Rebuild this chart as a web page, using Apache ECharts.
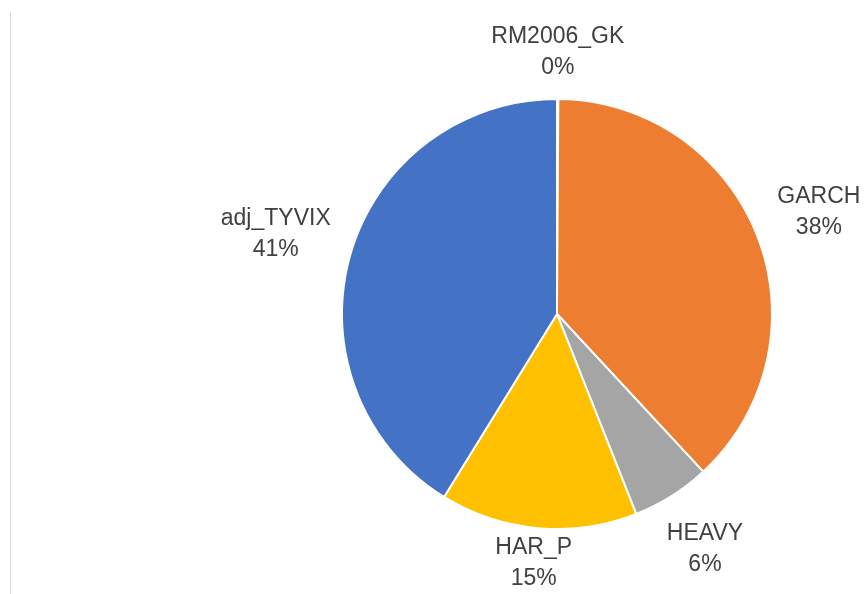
<!DOCTYPE html>
<html>
<head>
<meta charset="utf-8">
<script src="https://cdn.jsdelivr.net/npm/echarts@6/dist/echarts.min.js"></script>
<style>
  html, body { margin: 0; padding: 0; background: #fff; }
  #chart { width: 865px; height: 594px; }
</style>
</head>
<body>
<div id="chart"></div>
<script>
// 数据
var names = ['RM2006_GK', 'GARCH', 'HEAVY', 'HAR_P', 'adj_TYVIX'];
var values = [0.1, 38.0, 5.9, 14.8, 41.2];
var colors = ['#5B9BD5', '#ED7D31', '#A5A5A5', '#FFC000', '#4472C4'];

var cx = 557, cy = 314, R = 215;
var total = values.reduce(function (a, b) { return a + b; }, 0);

// 每个扇区中间的角度 (从12点顺时针)
var midAngles = [];
var acc = 0;
for (var i = 0; i < values.length; i++) {
  midAngles.push((acc + values[i] / 2) / total * Math.PI * 2);
  acc += values[i];
}

var chart = echarts.init(document.getElementById('chart'));

var option = {
  backgroundColor: '#fff',
  animation: false,
  graphic: [{
    type: 'rect',
    shape: { x: 10, y: 12, width: 1, height: 582 },
    style: { fill: '#D9D9D9' },
    silent: true
  }],
  series: [{
    type: 'pie',
    center: [cx, cy],
    radius: R,
    startAngle: 90,
    clockwise: true,
    percentPrecision: 0,
    avoidLabelOverlap: false,
    itemStyle: { borderColor: '#fff', borderWidth: 2 },
    label: {
      show: true,
      position: 'outside',
      formatter: '{b}\n{d}%',
      fontFamily: '"Liberation Sans", Arial, sans-serif',
      fontSize: 23,
      lineHeight: 31,
      color: '#404040'
    },
    labelLine: { show: false },
    // 标签放在扇区外侧, 超出底部时往上推
    labelLayout: function (params) {
      var a = midAngles[params.dataIndex];
      var sx = Math.sin(a), sy = -Math.cos(a);
      var w = params.labelRect.width, h = params.labelRect.height;
      var d = R + 16 + Math.abs(sx) * w / 2 + Math.abs(sy) * h / 2;
      var x = cx + sx * d;
      var y = Math.min(cy + sy * d, chart.getHeight() - h / 2);
      return {
        x: x,
        y: y,
        align: 'center',
        verticalAlign: 'middle'
      };
    },
    data: names.map(function (n, i) {
      return { name: n, value: values[i], itemStyle: { color: colors[i] } };
    })
  }]
};

chart.setOption(option);
</script>
</body>
</html>
